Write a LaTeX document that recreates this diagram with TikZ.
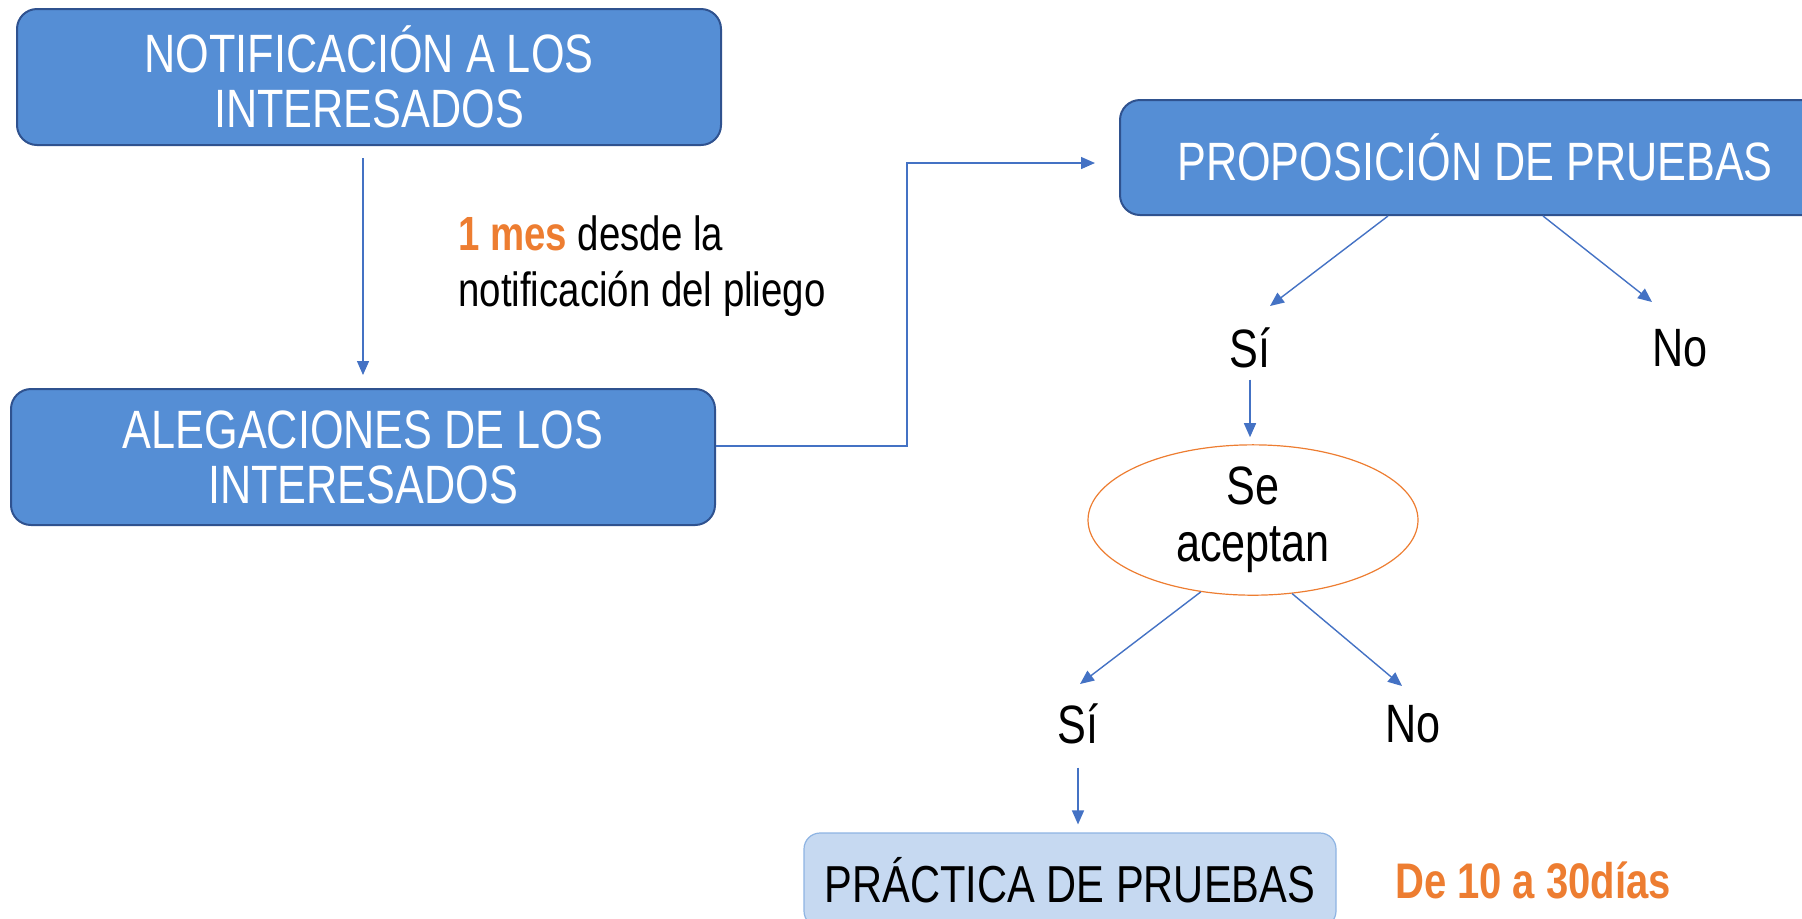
\documentclass[tikz,border=0pt]{standalone}
\usepackage{fontspec}
\setmainfont{Liberation Sans}[FakeStretch=0.8]
\usetikzlibrary{arrows.meta,shapes}
\definecolor{boxblue}{RGB}{85,142,213}
\definecolor{boxedge}{RGB}{47,82,143}
\definecolor{linkblue}{RGB}{68,114,196}
\definecolor{paleblue}{RGB}{198,217,241}
\definecolor{paleedge}{RGB}{142,180,227}
\definecolor{accent}{RGB}{237,125,49}
\tikzstyle{block} = [draw=boxedge, fill=boxblue, rectangle, rounded corners=10pt,
    line width=1pt, text=white, align=center,
    font=\fontsize{27}{27.5}\selectfont, minimum width=352pt, minimum height=68pt]
\tikzstyle{lightblock} = [draw=paleedge, fill=paleblue, rectangle, rounded corners=8pt,
    line width=0.6pt, font=\fontsize{26}{27}\selectfont,
    minimum width=266pt, minimum height=47pt]
\tikzstyle{decision} = [draw=accent, ellipse, line width=0.6pt, align=center,
    inner sep=0pt, font=\fontsize{27}{28.7}\selectfont,
    minimum width=165pt, minimum height=74pt]
\tikzstyle{choice} = [font=\fontsize{27}{28}\selectfont, inner sep=1pt]
\tikzstyle{note} = [align=left, inner sep=0pt, font=\fontsize{24}{28}\selectfont]
\tikzstyle{link} = [->, draw=linkblue, line width=0.7pt]

\begin{document}
\begin{tikzpicture}[auto, node distance=1cm, >={Triangle[length=7pt,width=6pt]}]
    \useasboundingbox (0,0) rectangle (901pt,-459pt);

    \node [block] (notif) at (184.5pt,-38.5pt) {NOTIFICACIÓN A LOS\\INTERESADOS};
    \node [block, below of=notif, node distance=190pt, xshift=-3pt] (aleg) {ALEGACIONES DE LOS\\INTERESADOS};
    \node [note, anchor=west] (plazo) at (229pt,-133pt) {{\color{accent}\bfseries 1 mes} desde la\\notificación del pliego};

    \node [block, minimum width=355pt, minimum height=57.5pt] (prop) at (737.5pt,-78.75pt) {PROPOSICIÓN DE PRUEBAS};
    \coordinate [left of=prop, node distance=284pt, yshift=-2.75pt] (elbow);

    \node [choice, below of=prop, node distance=95.25pt, xshift=-112.5pt] (si1) {Sí};
    \node [choice, right of=si1, node distance=215pt] (no1) {No};
    \node [decision, below of=si1, node distance=86pt, xshift=1.5pt] (acepta) {Se\\aceptan};
    \node [choice, below of=acepta, node distance=102pt, xshift=-87.5pt] (si2) {Sí};
    \node [choice, right of=si2, node distance=167.5pt] (no2) {No};
    \node [lightblock, below of=si2, node distance=78pt, xshift=-4pt] (practica) {PRÁCTICA DE PRUEBAS};
    \node [right of=practica, node distance=231.5pt, text=accent, font=\fontsize{25}{26}\selectfont\bfseries] (dias) {De 10 a 30días};

    \draw [link, shorten <=6pt, shorten >=6.5pt] ([xshift=-3pt]notif.south) -- (aleg.north);
    \draw [link] ([yshift=5.5pt]aleg.east) -| (elbow) -- ([xshift=-12pt,yshift=-2.75pt]prop.west);

    \draw [link] ([xshift=-43.5pt]prop.south) -- ([xshift=10pt,yshift=21pt]si1.center);
    \draw [link] ([xshift=34pt]prop.south) -- ([xshift=-14pt,yshift=23pt]no1.center);
    \draw [link, shorten <=4.5pt, shorten >=3.5pt] (si1.south) -- (si1.south |- acepta.north);

    \draw [link] (acepta.234) -- ([xshift=1pt,yshift=20pt]si2.center);
    \draw [link] (acepta.298) -- ([xshift=-5.5pt,yshift=19pt]no2.center);
    \draw [link, shorten <=10.5pt, shorten >=4pt] (si2.south) -- (si2.south |- practica.north);
\end{tikzpicture}
\end{document}
